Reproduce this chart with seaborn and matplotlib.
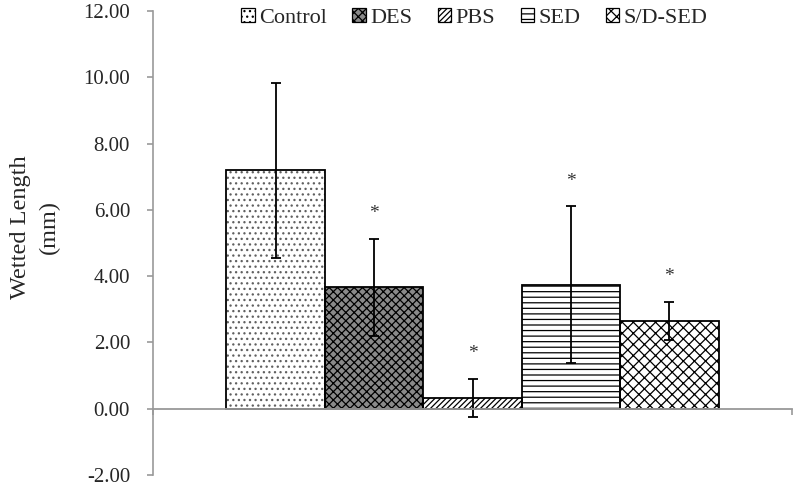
import matplotlib
matplotlib.use("Agg")
import matplotlib.pyplot as plt
from matplotlib.patches import Patch, Rectangle
import seaborn as sns
import pandas as pd

groups = ["Control", "DES", "PBS", "SED", "S/D-SED"]
means = [7.20, 3.66, 0.33, 3.74, 2.65]
errors = [2.64, 1.46, 0.57, 2.37, 0.58]
signif = ["", "*", "*", "*", "*"]
yticks = [-2, 0, 2, 4, 6, 8, 10, 12]

hatches = ["...", "xxxx", "//////", "---", "xxx"]
faces = ["white", "#8a8a8a", "white", "white", "white"]
hatch_cols = ["#606060", "black", "black", "black", "black"]

sns.set_theme(style="white")
plt.rcParams["font.family"] = ["Liberation Serif", "DejaVu Serif"]
plt.rcParams["hatch.linewidth"] = 0.9

df = pd.DataFrame({"cat": ["all"] * len(groups), "group": groups, "value": means})

fig = plt.figure(figsize=(7.94, 4.88), dpi=100)
ax = fig.add_axes([0.1927, 0.027, 0.8048, 0.950])

sns.barplot(data=df, x="cat", y="value", hue="group", hue_order=groups,
            width=0.77, errorbar=None, ax=ax, legend=False,
            edgecolor="black", linewidth=1.2)

bars = ax.patches[:len(groups)]
for bar, h, fc, hc in zip(bars, hatches, faces, hatch_cols):
    bar.set_facecolor(fc)
    bar.set_hatch(h)
    bar.set_edgecolor(hc)
    bar.set_linewidth(0)
    # black outline on top, hatch keeps its own colour
    ax.add_patch(Rectangle(bar.get_xy(), bar.get_width(), bar.get_height(),
                           fill=False, edgecolor="black", linewidth=1.3, zorder=3))

centers = [b.get_x() + b.get_width() / 2 for b in bars]
ax.errorbar(centers, means, yerr=errors, fmt="none", ecolor="black",
            elinewidth=1.3, capsize=3.8, capthick=1.3, zorder=5)
for c, m, e, s in zip(centers, means, errors, signif):
    if s:
        ax.text(c, m + e + 0.5, s, ha="center", va="bottom", fontsize=14, color="#333333")

ax.set_ylim(-2, 12)
ax.set_xlim(-0.5, 0.5)
ax.set_yticks(yticks)
ax.set_yticklabels([f"{t:.2f}" for t in yticks], fontsize=15)
ax.set_xticks([-0.5, 0.5])
ax.set_xticklabels([])
ax.set_xlabel("")
ax.set_ylabel("Wetted Length\n(mm)", fontsize=17.5, linespacing=1.45)
ax.yaxis.set_label_coords(-0.146, 0.535)
ax.tick_params(axis="y", length=4.5, width=1.2, color="#999999", pad=12, left=True)
ax.tick_params(axis="x", length=4.5, width=1.2, color="#999999", bottom=True, direction="out")

for side in ["top", "right"]:
    ax.spines[side].set_visible(False)
ax.spines["left"].set_color("#999999")
ax.spines["left"].set_linewidth(1.2)
ax.spines["bottom"].set_color("#999999")
ax.spines["bottom"].set_linewidth(1.3)
ax.spines["bottom"].set_position(("data", 0))
ax.spines["bottom"].set_zorder(6)

handles = [Patch(facecolor=fc, edgecolor="black", hatch=h, label=g, linewidth=0.9)
           for g, h, fc in zip(groups, hatches, faces)]
ax.legend(handles=handles, loc="center", bbox_to_anchor=(0.503, 0.986), ncol=5,
          frameon=False, fontsize=16, handlelength=0.6, handleheight=0.6,
          handletextpad=0.2, columnspacing=1.15, borderpad=0)

plt.savefig("out.png", dpi=100)
